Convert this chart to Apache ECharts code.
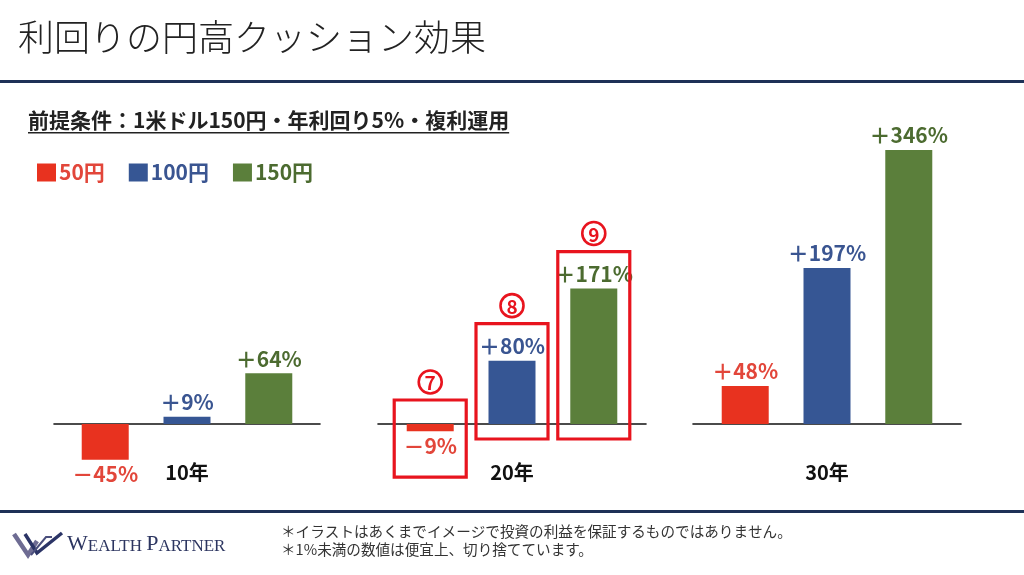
<!DOCTYPE html>
<html>
<head>
<meta charset="utf-8">
<script src="https://cdn.jsdelivr.net/npm/echarts@6/dist/echarts.min.js"></script>
<style>
html,body{margin:0;padding:0;background:#fff;}
#main{width:1024px;height:575px;}
</style>
</head>
<body>
<div id="main"></div>
<script>
// ---- data ----
const categories = ['10年', '20年', '30年'];
const seriesNames = ['50円', '100円', '150円'];
const values50 = [-45, -9, 48];
const values100 = [9, 80, 197];
const values150 = [64, 171, 346];
const annotatedGroup = 1; // 20年
const annotationMarks = ['7', '8', '9'];
const titleText = '利回りの円高クッション効果';
const subtitleText = '前提条件：1米ドル150円・年利回り5%・複利運用';
const footNotes = ['＊イラストはあくまでイメージで投資の利益を保証するものではありません。', '＊1%未満の数値は便宜上、切り捨てています。'];

const seriesValues = [values50, values100, values150];
const barColors = ['#E8321F', '#365694', '#5B7F3B'];
const labelColors = ['#E2463A', '#3A5591', '#4C6B30'];
const FONT = '"Noto Sans CJK JP", "Noto Sans", sans-serif';
const SERIF = '"Liberation Serif", "DejaVu Serif", serif';

const gridBoxes = [
  {left: 54, width: 266},
  {left: 378, width: 268},
  {left: 693, width: 268}
];

const grids = gridBoxes.map(g => ({left: g.left, width: g.width, top: 107.2, height: 356.4, containLabel: false}));
const xAxes = categories.map((c, i) => ({
  type: 'category', gridIndex: i, data: [c],
  axisLine: {onZero: true, lineStyle: {color: '#111', width: 1.6}},
  axisTick: {show: false},
  axisLabel: {margin: -1, fontSize: 20, fontWeight: 'bold', color: '#111', fontFamily: FONT}
}));
const yAxes = categories.map((c, i) => ({
  type: 'value', gridIndex: i, min: -50, max: 400, show: false, splitLine: {show: false}
}));

function fmt(v) {
  return (v >= 0 ? '＋' : '－') + Math.abs(v) + '%';
}

const series = [];
categories.forEach((c, g) => {
  seriesValues.forEach((vals, s) => {
    const v = vals[g];
    series.push({
      type: 'bar', name: seriesNames[s], xAxisIndex: g, yAxisIndex: g,
      barWidth: 47, barGap: '74%',
      itemStyle: {color: barColors[s]},
      label: {
        show: true, formatter: p => fmt(p.value), color: labelColors[s],
        fontSize: 21, fontWeight: 'bold', fontFamily: FONT, distance: 4
      },
      data: [{value: v, label: {position: v < 0 ? 'bottom' : 'top'}}]
    });
  });
});

// subtitle width measurement for underline
const mc = document.createElement('canvas').getContext('2d');
mc.font = 'bold 21px ' + FONT;
const subW = mc.measureText(subtitleText).width;

const chart = echarts.init(document.getElementById('main'), null, {renderer: 'canvas'});
const option = {
  backgroundColor: '#fff',
  animation: false,
  title: {
    text: titleText, left: 13, top: 14,
    textStyle: {fontSize: 36, fontWeight: 300, color: '#222', fontFamily: FONT}
  },
  legend: {
    left: 32, top: 157, itemWidth: 19, itemHeight: 18, itemGap: 24, icon: 'rect',
    selectedMode: false,
    textStyle: {fontSize: 21, fontWeight: 'bold', fontFamily: FONT, padding: [0, 0, 0, -2]},
    data: seriesNames.map((n, i) => ({name: n, textStyle: {color: labelColors[i]}}))
  },
  grid: grids,
  xAxis: xAxes,
  yAxis: yAxes,
  series: series,
  graphic: [
    {type: 'rect', left: 0, top: 80, shape: {width: 1024, height: 3}, style: {fill: '#1E3157'}},
    {type: 'rect', left: 0, top: 510, shape: {width: 1024, height: 3}, style: {fill: '#1E3157'}},
    {type: 'text', left: 28, top: 110, style: {text: subtitleText, font: 'bold 21px ' + FONT, fill: '#222'}},
    {type: 'rect', left: 28, top: 132, shape: {width: subW, height: 1.6}, style: {fill: '#222'}},
    // logo mark
    {type: 'polyline', shape: {points: [[14, 534], [28, 555], [37, 541]]}, style: {stroke: '#6E6C93', lineWidth: 4.5, fill: null}},
    {type: 'polyline', shape: {points: [[25, 534], [37, 553], [62, 533]]}, style: {stroke: '#2B3466', lineWidth: 3.5, fill: null}},
    {type: 'polyline', shape: {points: [[31, 555], [46, 537], [52, 537]]}, style: {stroke: '#4A4E7C', lineWidth: 2, fill: null}},
    {type: 'text', left: 67, top: 533, style: {
      text: '{a|W}{b|EALTH }{a|P}{b|ARTNER}',
      rich: {
        a: {fontSize: 22, fontFamily: SERIF, fill: '#2C3560', verticalAlign: 'bottom', lineHeight: 22},
        b: {fontSize: 17, fontFamily: SERIF, fill: '#2C3560', verticalAlign: 'bottom', lineHeight: 22}
      }
    }},
    {type: 'text', left: 281, top: 524, style: {text: footNotes[0], font: '14.6px ' + FONT, fill: '#333'}},
    {type: 'text', left: 281, top: 542, style: {text: footNotes[1], font: '14.6px ' + FONT, fill: '#333'}}
  ]
};
chart.setOption(option);

// annotation boxes around the 20年 bars, positioned from the bar layouts
const extra = [];
seriesNames.forEach((n, s) => {
  const sIdx = annotatedGroup * 3 + s;
  let lay = null;
  try { lay = chart.getModel().getSeriesByIndex(sIdx).getData().getItemLayout(0); } catch (e) { lay = null; }
  if (!lay) return;
  const cx = lay.x + lay.width / 2;
  const y1 = Math.min(lay.y, lay.y + lay.height);
  const y2 = Math.max(lay.y, lay.y + lay.height);
  const v = seriesValues[s][annotatedGroup];
  let top, bottom;
  if (v < 0) { top = y1 - 24; bottom = y2 + 46; }
  else { top = y1 - 37; bottom = y2 + 15; }
  extra.push({type: 'rect', shape: {x: cx - 36, y: top, width: 72, height: bottom - top},
    style: {fill: null, stroke: '#E8141E', lineWidth: 3.2}, z: 10});
  extra.push({type: 'circle', shape: {cx: cx, cy: top - 18, r: 11.5},
    style: {fill: '#fff', stroke: '#E8141E', lineWidth: 2.6}, z: 10});
  extra.push({type: 'text', x: cx, y: top - 17, style: {text: annotationMarks[s], font: 'bold 19px ' + FONT,
    fill: '#E8141E', align: 'center', verticalAlign: 'middle'}, z: 11});
});
chart.setOption({graphic: option.graphic.concat(extra)});
</script>
</body>
</html>
